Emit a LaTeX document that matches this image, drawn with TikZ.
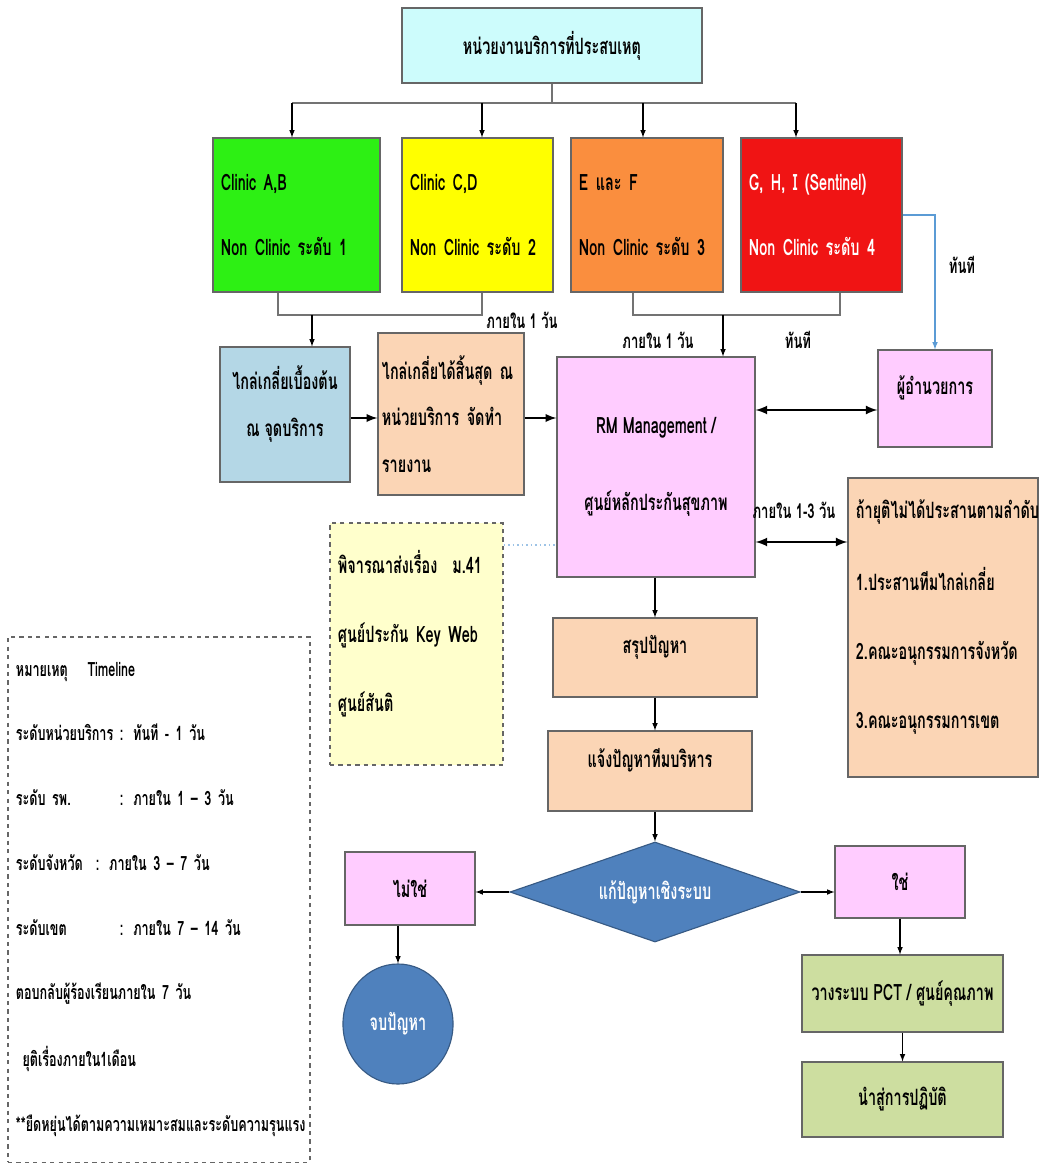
\documentclass[tikz,border=0pt]{standalone}
\usepackage{fontspec}
\setmainfont[Script=Thai,FakeStretch=0.64]{Loma}
\usepackage{tikz}
\usetikzlibrary{shapes.geometric, arrows}
\usepackage{xcolor}
\definecolor{paleCyan}{RGB}{205, 252, 252}
\definecolor{clinicGreen}{RGB}{45, 240, 20}
\definecolor{clinicYellow}{RGB}{255, 255, 0}
\definecolor{clinicOrange}{RGB}{250, 142, 62}
\definecolor{clinicRed}{RGB}{240, 20, 20}
\definecolor{softBlue}{RGB}{180, 215, 230}
\definecolor{peach}{RGB}{251, 213, 181}
\definecolor{lilac}{RGB}{255, 204, 255}
\definecolor{paleYellow}{RGB}{255, 255, 204}
\definecolor{steelBlue}{RGB}{79, 129, 189}
\definecolor{olive}{RGB}{205, 222, 160}
\definecolor{lineBlue}{RGB}{91, 155, 213}
\newcommand{\bodyfont}{\fontsize{16}{19}\selectfont\bfseries}
\newcommand{\legendfont}{\fontsize{14}{17}\selectfont\bfseries}
\newcommand{\tagfont}{\fontsize{14.5}{17}\selectfont\bfseries}
\newcommand{\lift}{\\[0pt]\mbox{}}

\begin{document}
\begin{tikzpicture}
    [
		x=0.025cm, y=-0.025cm,
		>=latex,
		box/.style={
			draw=black!60, thick, inner sep=0.2cm, font=\bodyfont
		},
		boxl/.style={box, align=left},
		boxc/.style={box, align=center},
		link/.style={->, thick},
		bus/.style={draw=black!55, thick},
		dbl/.style={<->, line width=1.8pt},
		tag/.style={font=\tagfont}
	]

\useasboundingbox (0,0) rectangle (1040,1168);

% Nodes
\node (top) [boxc, fill=paleCyan, minimum width=7.5cm, minimum height=1.875cm] at (552,45.5)
	{หน่วยงานบริการที่ประสบเหตุ};

\node (cA) [boxl, fill=clinicGreen, text width=3.775cm, minimum height=3.85cm] at (296.5,215)
	{Clinic\ A,B\\[27pt]Non Clinic\ ระดับ 1};
\node (cB) [boxl, fill=clinicYellow, text width=3.375cm, minimum height=3.85cm] at (477.5,215)
	{Clinic\ C,D\\[27pt]Non Clinic\ ระดับ 2};
\node (cC) [boxl, fill=clinicOrange, text width=3.4cm, minimum height=3.85cm] at (647,215)
	{E และ F\\[27pt]Non Clinic ระดับ 3};
\node (cD) [boxl, fill=clinicRed, text=white, text width=3.625cm, minimum height=3.85cm] at (821.5,215)
	{G, H, I (Sentinel)\\[27pt]Non Clinic ระดับ\ 4};

\node (pre) [boxc, fill=softBlue, minimum width=3.25cm, minimum height=3.375cm] at (285,414.5)
	{ไกล่เกลี่ยเบื้องต้น\\[14pt]ณ จุดบริการ\lift};
\node (closed) [boxl, fill=peach, inner sep=0.1cm, text width=3.45cm, minimum height=4.05cm] at (451,414)
	{ไกล่เกลี่ยได้สิ้นสุด ณ\\[14pt]หน่วยบริการ จัดทำ\\[14pt]รายงาน};
\node (rm) [boxc, fill=lilac, minimum width=4.95cm, minimum height=5.5cm] at (656,467)
	{RM Management /\\[36pt]ศูนย์หลักประกันสุขภาพ};
\node (dir) [boxc, fill=lilac, minimum width=2.85cm, minimum height=2.425cm] at (935,398.5)
	{ผู้อำนวยการ\lift};
\node (esc) [boxl, fill=peach, inner sep=0.2cm, text width=4.35cm, minimum height=7.475cm] at (943,627.5)
	{ถ้ายุติไม่ได้ประสานตามลำดับ\\[30pt]1.ประสานทีมไกล่เกลี่ย\\[30pt]2.คณะอนุกรรมการจังหวัด\\[30pt]3.คณะอนุกรรมการเขต\lift};
\node (note) [boxl, dashed, fill=paleYellow, text width=3.925cm, minimum height=6.05cm] at (416.5,644)
	{พิจารณาส่งเรื่อง\ \ ม.41\\[30pt]ศูนย์ประกัน Key Web\\[30pt]ศูนย์สันติ\lift};

\node (sum) [boxc, fill=peach, minimum width=5.1cm, minimum height=1.975cm] at (655,657.5)
	{สรุปปัญหา\lift};
\node (mgmt) [boxc, fill=peach, minimum width=5.1cm, minimum height=2cm] at (650,771)
	{แจ้งปัญหาทีมบริหาร\lift};
\node (dec) [diamond, draw=steelBlue!70!black, thick, fill=steelBlue, text=white, font=\bodyfont,
	aspect=2.9, inner sep=0pt, minimum width=7.25cm, minimum height=2.5cm] at (655,892)
	{แก้ปัญหาเชิงระบบ};
\node (no) [boxc, fill=lilac, minimum width=3.25cm, minimum height=1.825cm] at (410,888.5)
	{ไม่ใช่};
\node (yes) [boxc, fill=lilac, minimum width=3.25cm, minimum height=1.8cm] at (900,882)
	{ใช่};
\node (endp) [ellipse, draw=steelBlue!70!black, thick, fill=steelBlue, text=white, font=\bodyfont,
	minimum width=2.75cm, minimum height=3cm] at (398,1024)
	{จบปัญหา};
\node (plan) [boxc, fill=olive, minimum width=5.025cm, minimum height=1.925cm] at (902.5,993.5)
	{วางระบบ PCT / ศูนย์คุณภาพ};
\node (act) [boxc, fill=olive, minimum width=5.025cm, minimum height=1.875cm] at (902.5,1099.5)
	{นำสู่การปฏิบัติ};

\node (legend) [boxl, dashed, font=\legendfont, inner sep=0.2cm, text width=7.15cm, minimum height=13.125cm] at (159,899.5)
	{หมายเหตุ\ \ \ Timeline\\[29pt]
	ระดับหน่วยบริการ : ทันที - 1 วัน\\[29pt]
	\makebox[2.6cm][l]{ระดับ รพ.}: ภายใน 1 – 3 วัน\\[29pt]
	ระดับจังหวัด\ \ : ภายใน 3 – 7 วัน\\[29pt]
	\makebox[2.6cm][l]{ระดับเขต}: ภายใน 7 – 14 วัน\\[29pt]
	ตอบกลับผู้ร้องเรียนภายใน 7 วัน\\[29pt]
	\ ยุติเรื่องภายใน1เดือน\\[29pt]
	**ยืดหยุ่นได้ตามความเหมาะสมและระดับความรุนแรง};

% Labels
\node (tagAB) [tag] at (522,320) {ภายใน 1 วัน};
\node (tagC) [tag] at (658,340) {ภายใน 1 วัน};
\node (tagD) [tag] at (798,340) {ทันที};
\node (tagDir) [tag] at (962,265) {ทันที};
\node (tagEsc) [tag] at (794,510) {ภายใน 1-3 วัน};

% Transitions
\coordinate (hub) at (552,103);
\coordinate (jA) at (292,103);
\coordinate (jB) at (482,103);
\coordinate (jC) at (643,103);
\coordinate (jD) at (796,103);
\draw [bus] (top.south) -- (hub);
\draw [bus] (jA) -- (jD);
\draw [link] (jA) -- (jA |- cA.north);
\draw [link] (jB) -- (jB |- cB.north);
\draw [link] (jC) -- (jC |- cC.north);
\draw [link] (jD) -- (jD |- cD.north);

\coordinate (lAB) at (278,315);
\coordinate (rAB) at (482,315);
\coordinate (dAB) at (312,315);
\draw [bus] (lAB |- cA.south) -- (lAB) -- (rAB) -- (rAB |- cB.south);
\draw [link] (dAB) -- (dAB |- pre.north);

\coordinate (lCD) at (633,315);
\coordinate (rCD) at (840,315);
\coordinate (dCD) at (723,315);
\draw [bus] (lCD |- cC.south) -- (lCD) -- (rCD) -- (rCD |- cD.south);
\draw [link] (dCD) -- (dCD |- rm.north);

\draw [->, thick, lineBlue] (cD.east) -| (dir.north);

\draw [->, line width=1.6pt] (pre.east |- 0,418) -- (closed.west |- 0,418);
\draw [->, line width=1.6pt] (closed.east |- 0,418) -- (rm.west |- 0,418);

\draw [dbl] (rm.east |- 0,410) -- (dir.west |- 0,410);
\draw [dbl] (rm.east |- 0,542) -- (esc.west |- 0,542);
\draw [dotted, very thick, lineBlue!60] (note.east |- 0,545) -- (rm.west |- 0,545);

\draw [link] (rm.south -| sum.north) -- (sum.north);
\draw [link] (sum.south) -- (sum.south |- mgmt.north);
\draw [link] (mgmt.south -| dec.north) -- (dec.north);
\draw [link] (dec.west) -- (no.east |- dec.west);
\draw [link] (dec.east) -- (yes.west |- dec.east);
\draw [link] (endp.north |- no.south) -- (endp.north);
\draw [link] (yes.south) -- (yes.south |- plan.north);
\draw [link] (plan.south) -- (act.north);

\end{tikzpicture}
\end{document}
